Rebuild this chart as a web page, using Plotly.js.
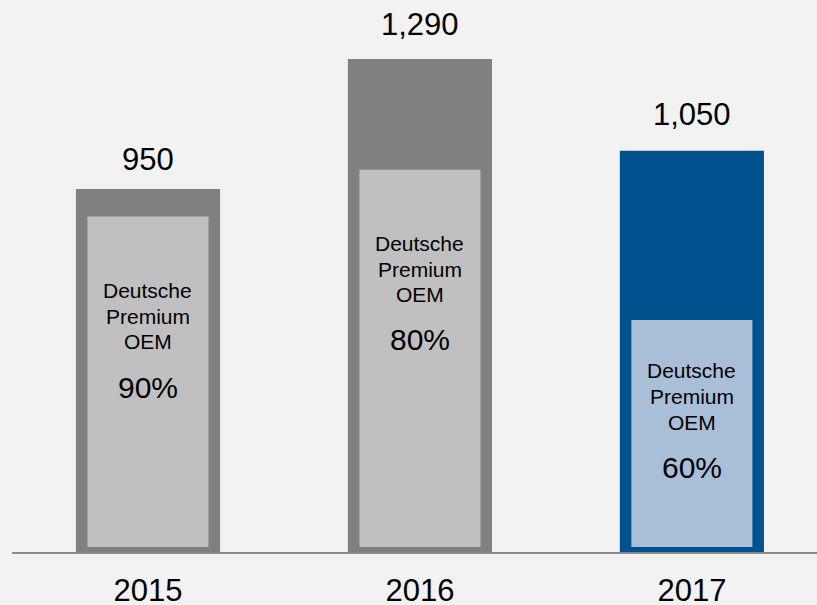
<!DOCTYPE html>
<html>
<head>
<meta charset="utf-8">
<script src="https://cdn.plot.ly/plotly-3.0.1.min.js"></script>
<style>
  html, body { margin: 0; padding: 0; background: #f2f2f2; }
  #chart { width: 817px; height: 605px; }
</style>
</head>
<body>
<div id="chart"></div>
<script>
// ---- data ----
const years = ['2015', '2016', '2017'];
const totals = [950, 1290, 1050];
const totalLabels = ['950', '1,290', '1,050'];
const premiumShare = ['90%', '80%', '60%'];
const premiumBarTop = [878, 1000, 607];   // drawn height of inner bars (as read)
const premiumLabel = ['Deutsche', 'Premium', 'OEM'];

// ---- styles ----
const outerColors = ['#808080', '#808080', '#00528f'];
const innerColors = ['#c0c0c0', '#c0c0c0', '#a8bfd7'];
const innerInset = 13;           // bottom inset of inner bar, in axis units
const FONT = 'Liberation Sans, Arial, Helvetica, sans-serif';

// pixel <-> axis helpers for text placement (plot: bottom 552px, 535px for 1400 units)
const plotBottomPx = 552, pxPerUnit = 535 / 1400;
const pxToY = py => (plotBottomPx - py) / pxPerUnit;

// text placement (pixel y of cap centers)
const totalLabelPx = [159, 24, 114];
const linePx = [
  [290.5, 316.5, 341.5, 387.5],
  [243.5, 269.5, 294.5, 339.5],
  [370.5, 396.5, 422.5, 467.5]
];

const outer = {
  type: 'bar',
  x: years,
  y: totals,
  width: years.map(() => 0.53),
  marker: { color: outerColors, line: { width: 0 } },
  hoverinfo: 'skip'
};
const inner = {
  type: 'bar',
  x: years,
  y: premiumBarTop.map(v => v - innerInset),
  base: years.map(() => innerInset),
  width: years.map(() => 0.445),
  marker: { color: innerColors, line: { width: 0 } },
  hoverinfo: 'skip'
};

const annotations = [];
years.forEach((yr, i) => {
  annotations.push({
    x: i, y: pxToY(totalLabelPx[i]), xref: 'x', yref: 'y',
    text: totalLabels[i], showarrow: false, yanchor: 'middle',
    font: { family: FONT, size: 31, color: '#000000' }
  });
  premiumLabel.forEach((t, k) => {
    annotations.push({
      x: i, y: pxToY(linePx[i][k]), xref: 'x', yref: 'y',
      text: t, showarrow: false, yanchor: 'middle',
      font: { family: FONT, size: 21, color: '#000000' }
    });
  });
  annotations.push({
    x: i, y: pxToY(linePx[i][3]), xref: 'x', yref: 'y',
    text: premiumShare[i], showarrow: false, yanchor: 'middle',
    font: { family: FONT, size: 30, color: '#000000' }
  });
});

const layout = {
  width: 817, height: 605,
  margin: { l: 12, r: 0, t: 17, b: 53, pad: 0 },
  paper_bgcolor: '#f2f2f2',
  plot_bgcolor: '#f2f2f2',
  barmode: 'overlay',
  showlegend: false,
  hovermode: false,
  xaxis: {
    type: 'category',
    range: [-0.5, 2.46],
    showline: true, linecolor: '#8a8a8a', linewidth: 1.5,
    ticks: '', showgrid: false, zeroline: false,
    tickfont: { family: FONT, size: 31, color: '#000000' },
    ticklabelstandoff: 10,
    fixedrange: true
  },
  yaxis: {
    range: [0, 1400],
    showgrid: false, zeroline: false, showticklabels: false, showline: false,
    ticks: '', fixedrange: true
  },
  annotations: annotations
};

Plotly.newPlot('chart', [outer, inner], layout, { displayModeBar: false, staticPlot: true });
</script>
</body>
</html>
